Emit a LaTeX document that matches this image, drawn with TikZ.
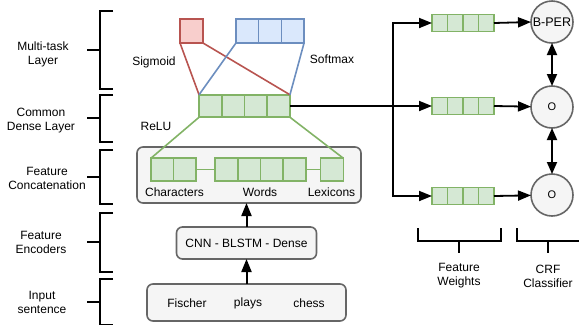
\documentclass[tikz,border=0pt]{standalone}
\usepackage{fontspec}
\setmainfont{Liberation Sans}
\usetikzlibrary{arrows.meta}
\definecolor{gfill}{HTML}{D5E8D4}
\definecolor{gline}{HTML}{82B366}
\definecolor{rfill}{HTML}{F8CECC}
\definecolor{rline}{HTML}{B85450}
\definecolor{bfill}{HTML}{DAE8FC}
\definecolor{bline}{HTML}{6C8EBF}
\definecolor{kfill}{HTML}{F5F5F5}
\definecolor{kline}{HTML}{666666}
\newcommand{\sidebrace}[3]{%
  \draw[brk] (113,#1) -- (100,#1) -- (100,#2) -- (113,#2);
  \draw[brk] (87,#3) -- (100,#3);}
\begin{document}
\begin{tikzpicture}[x=1pt,y=-1pt,font=\fontsize{12}{14}\selectfont,
  cell/.style={draw=gline,fill=gfill,line width=1.6pt,minimum width=22.7pt,minimum height=22.5pt,inner sep=0pt,outer sep=0pt},
  scell/.style={cell,minimum width=15.5pt,minimum height=17pt},
  rcell/.style={cell,draw=rline,fill=rfill,minimum width=23pt,minimum height=24pt},
  bcell/.style={cell,draw=bline,fill=bfill,minimum height=24pt},
  gbox/.style={draw=kline,fill=kfill,rounded corners=6pt,line width=1.6pt,inner sep=0pt,outer sep=0pt},
  circ/.style={circle,draw=kline,fill=kfill,line width=1.6pt,minimum size=42pt,inner sep=0pt,outer sep=0pt},
  arr/.style={-{Triangle[length=13pt,width=10pt]},line width=1.8pt},
  barr/.style={{Triangle[length=12pt,width=10pt]}-{Triangle[length=12pt,width=10pt]},line width=1.8pt},
  brk/.style={line width=1.8pt},
  conn/.style={line width=1.6pt},
  lab/.style={align=center,inner sep=0pt}]
\useasboundingbox (0,0) rectangle (579,325);

% left braces and labels
\sidebrace{11}{89}{50}
\sidebrace{95}{142}{118}
\sidebrace{150}{204}{177}
\sidebrace{213}{272}{242}
\sidebrace{279}{324.5}{302}
\node[lab] (l1) at (43,54) {Multi-task\\Layer};
\node[lab] (l2) at (41,120.5) {Common\\Dense Layer};
\node[lab] (l3) at (47,178.5) {Feature\\Concatenation};
\node[lab] (l4) at (41,242.5) {Feature\\Encoders};
\node[lab] (l5) at (42,302.5) {Input\\sentence};

% multi-task layer
\node[rcell] (r1) at (191.5,31) {};
\node[bcell] (b1) at (247.3,31) {};
\node[bcell] (b2) at (270,31) {};
\node[bcell] (b3) at (292.7,31) {};
\node[lab] (sig) at (154,62) {Sigmoid};
\node[lab] (soft) at (332,59) {Softmax};

% dense layer
\node[cell] (d1) at (210.4,106) {};
\node[cell] (d2) at (233.1,106) {};
\node[cell] (d3) at (255.9,106) {};
\node[cell] (d4) at (278.6,106) {};
\node[lab] (relu) at (156,126) {ReLU};

\draw[conn,rline] (r1.south west) -- (d1.north west);
\draw[conn,rline] (r1.south east) -- (d4.north east);
\draw[conn,bline] (b1.south west) -- (d1.north west);
\draw[conn,bline] (b3.south east) -- (d4.north east);

% concatenation
\node[gbox,minimum width=224pt,minimum height=56pt] (concat) at (249,175) {};
\node[cell] (c1) at (162.25,169.5) {};
\node[cell] (c2) at (184.75,169.5) {};
\node[cell] (w1) at (226.4,169.5) {};
\node[cell] (w2) at (249.1,169.5) {};
\node[cell] (w3) at (271.9,169.5) {};
\node[cell] (w4) at (294.6,169.5) {};
\node[cell] (x1) at (332,169.5) {};
\draw[conn,gline] (c2.east) -- (w1.west);
\draw[conn,gline] (w4.east) -- (x1.west);
\draw[conn,gline] (d1.south west) -- (c1.north west);
\draw[conn,gline] (d4.south east) -- (x1.north east);
\node[lab] (tch) at (174.5,192) {Characters};
\node[lab] (twd) at (260,192) {Words};
\node[lab] (tlx) at (331.5,192) {Lexicons};

% encoders and input
\node[gbox,minimum width=140pt,minimum height=32pt] (cnn) at (246.5,243) {CNN - BLSTM - Dense};
\node[gbox,minimum width=199pt,minimum height=37pt] (inp) at (246.5,302.5) {};
\node[lab] (f1) at (187,303) {Fischer};
\node[lab] (f2) at (248,303) {plays};
\node[lab] (f3) at (309,303) {chess};
\draw[arr,line width=2pt] (inp.north) -- (cnn.south);
\draw[arr,line width=2pt] (cnn.north) -- (cnn.north |- concat.south);

% feature weights
\foreach \r/\y in {t/23,m/106,u/196}{
  \node[scell] (\r1) at (439.75,\y) {};
  \node[scell] (\r2) at (455.25,\y) {};
  \node[scell] (\r3) at (470.75,\y) {};
  \node[scell] (\r4) at (486.25,\y) {};
}
\coordinate (jn) at (393,106);
\draw[arr] (d4.east) -- (m1.west);
\draw[arr] (jn) |- (t1.west);
\draw[arr] (jn) |- (u1.west);

% CRF
\node[circ,font=\fontsize{12.5}{14}\selectfont] (o1) at (552,22) {B-PER};
\node[circ,font=\fontsize{11}{12}\selectfont] (o2) at (552,107) {O};
\node[circ,font=\fontsize{11}{12}\selectfont] (o3) at (552,195) {O};
\draw[arr] (t4.east) -- (o1.west);
\draw[arr] (m4.east) -- (o2);
\draw[arr] (u4.east) -- (o3);
\draw[barr] (o1.south) -- (o2.north);
\draw[barr] (o2.south) -- (o3.north);

% bottom braces
\draw[brk] (418,228) -- (418,241) -- (501,241) -- (501,228);
\draw[brk] (459,241) -- (459,253);
\draw[brk] (517,228) -- (517,241) -- (579,241);
\draw[brk] (548,241) -- (548,253);
\node[lab] (fw) at (459,276) {Feature\\Weights};
\node[lab] (crf) at (548,276) {CRF\\Classifier};
\end{tikzpicture}
\end{document}
